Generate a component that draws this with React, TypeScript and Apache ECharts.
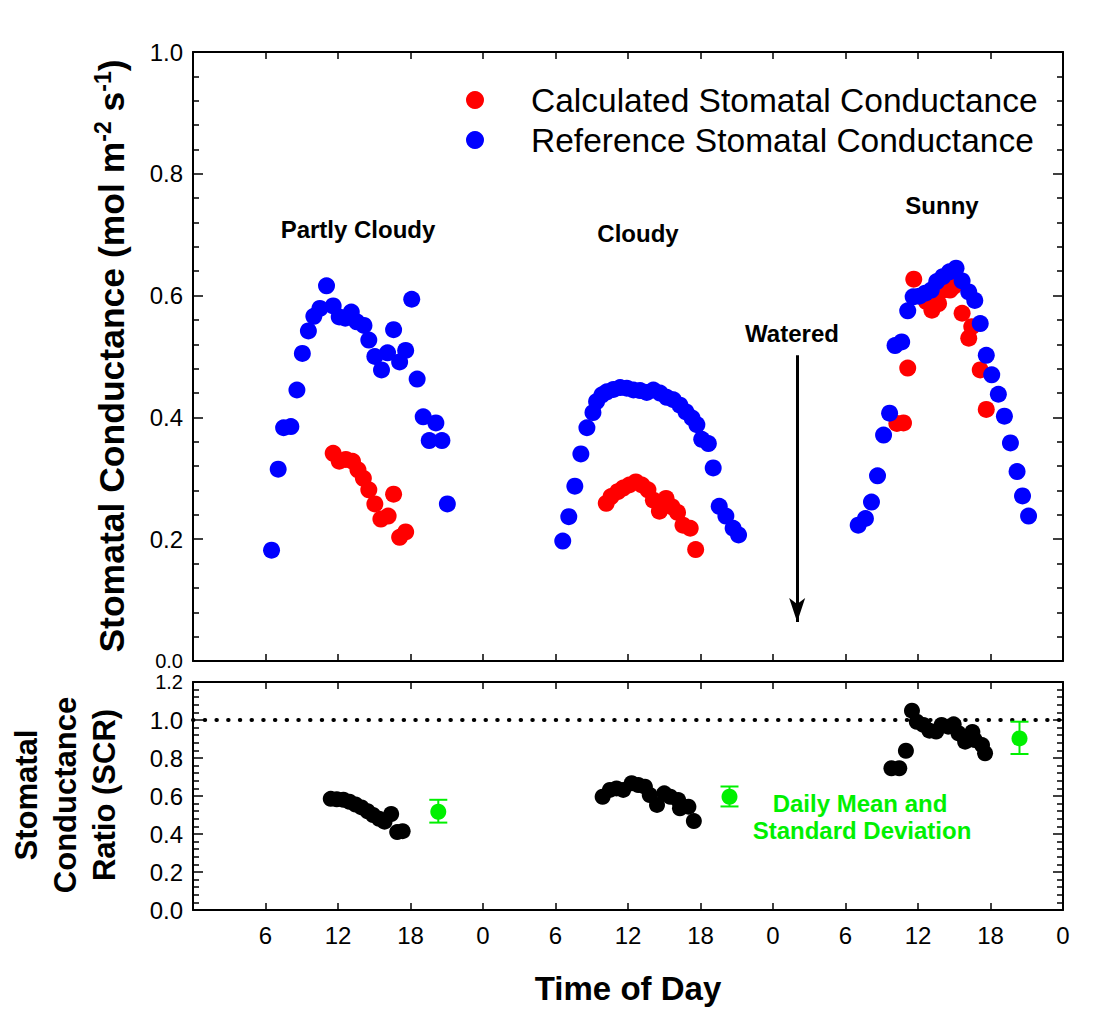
import React, { useEffect, useRef } from 'react';
import * as echarts from 'echarts';

const FONT = 'Arial, "Liberation Sans", Helvetica, sans-serif';
const GREEN = '#00f000';

// Time of day axis (hours from start of first day)
const hourMin = 0;
const hourMax = 72;
const hourStep = 6;

// ---- Upper panel: stomatal conductance (mol m-2 s-1) ----
const calcPartlyCloudy = [
  [11.6, 0.341], [12.1, 0.328], [12.65, 0.331], [13.2, 0.328], [13.65, 0.314], [14.1, 0.3],
  [14.55, 0.281], [15.05, 0.258], [15.55, 0.233], [16.15, 0.238], [16.6, 0.274], [17.1, 0.203], [17.6, 0.212],
];
const calcCloudy = [
  [34.2, 0.259], [34.6, 0.27], [35.15, 0.278], [35.6, 0.284], [36.1, 0.289], [36.65, 0.294], [37.15, 0.289],
  [37.65, 0.281], [38.1, 0.264], [38.6, 0.246], [39.15, 0.267], [39.65, 0.253], [40.1, 0.244], [40.55, 0.223],
  [41.15, 0.218], [41.6, 0.183],
];
const calcSunny = [
  [58.25, 0.39], [58.8, 0.391], [59.15, 0.481], [59.65, 0.627], [60.7, 0.59], [61.15, 0.576], [61.7, 0.587],
  [62.1, 0.609], [62.65, 0.609], [62.95, 0.615], [63.65, 0.571], [64.2, 0.53], [64.45, 0.549], [65.15, 0.478],
  [65.65, 0.413],
];
const refPartlyCloudy = [
  [6.5, 0.182], [7.05, 0.315], [7.5, 0.383], [8.1, 0.385], [8.6, 0.445], [9.05, 0.505], [9.55, 0.542],
  [10.0, 0.566], [10.5, 0.579], [11.05, 0.616], [11.6, 0.583], [12.1, 0.565], [12.6, 0.563], [13.1, 0.573],
  [13.55, 0.557], [14.15, 0.551], [14.55, 0.527], [15.05, 0.5], [15.6, 0.478], [16.1, 0.506], [16.6, 0.544],
  [17.1, 0.491], [17.6, 0.51], [18.1, 0.594], [18.55, 0.463], [19.05, 0.401], [19.55, 0.362], [20.1, 0.391],
  [20.6, 0.362], [21.05, 0.258],
];
const refCloudy = [
  [30.6, 0.197], [31.1, 0.237], [31.6, 0.287], [32.1, 0.34], [32.6, 0.383], [33.1, 0.408], [33.4, 0.426],
  [33.85, 0.437], [34.25, 0.442], [34.8, 0.446], [35.35, 0.449], [35.9, 0.448], [36.45, 0.445], [37.0, 0.444],
  [37.55, 0.441], [38.1, 0.445], [38.65, 0.44], [39.2, 0.433], [39.75, 0.429], [40.3, 0.42], [40.8, 0.409],
  [41.3, 0.399], [41.7, 0.388], [42.1, 0.364], [42.65, 0.357], [43.05, 0.317], [43.55, 0.254], [44.1, 0.238],
  [44.7, 0.218], [45.15, 0.207],
];
const refSunny = [
  [55.05, 0.223], [55.65, 0.234], [56.15, 0.261], [56.65, 0.304], [57.15, 0.371], [57.65, 0.407], [58.1, 0.518],
  [58.65, 0.524], [59.15, 0.575], [59.6, 0.598], [60.1, 0.599], [60.6, 0.604], [61.1, 0.609], [61.55, 0.623],
  [62.05, 0.631], [62.6, 0.639], [63.15, 0.645], [63.65, 0.624], [64.2, 0.606], [64.7, 0.592], [65.15, 0.554],
  [65.65, 0.502], [66.1, 0.47], [66.65, 0.438], [67.15, 0.402], [67.65, 0.358], [68.2, 0.311], [68.65, 0.271],
  [69.15, 0.238],
];

// Watering event arrow (hour, from value, to value)
const wateredHour = 50;
const wateredFrom = 0.502;
const wateredTo = 0.064;

// ---- Lower panel: stomatal conductance ratio (SCR) ----
const ratioPartlyCloudy = [
  [11.4, 0.585], [11.9, 0.583], [12.45, 0.58], [12.95, 0.57], [13.45, 0.555], [13.95, 0.54], [14.45, 0.52],
  [14.9, 0.5], [15.4, 0.48], [15.85, 0.465], [16.4, 0.505], [16.9, 0.41], [17.35, 0.415],
];
const ratioCloudy = [
  [33.9, 0.596], [34.5, 0.632], [35.05, 0.64], [35.6, 0.632], [36.3, 0.667], [36.85, 0.658], [37.4, 0.649],
  [37.8, 0.605], [38.4, 0.553], [39.0, 0.614], [39.5, 0.596], [40.15, 0.579], [40.3, 0.535], [41.0, 0.544],
  [41.45, 0.468],
];
const ratioSunny = [
  [57.8, 0.746], [58.45, 0.746], [59.0, 0.838], [59.5, 1.049], [59.9, 0.991], [60.45, 0.974], [60.95, 0.944],
  [61.5, 0.939], [61.95, 0.974], [62.5, 0.965], [62.95, 0.977], [63.35, 0.93], [63.9, 0.886], [64.5, 0.937],
  [64.7, 0.895], [65.3, 0.868], [65.55, 0.825],
];
// [hour, mean, mean - sd, mean + sd]
const dailyMeanSd = [
  [20.3, 0.517, 0.46, 0.58],
  [44.4, 0.596, 0.545, 0.65],
  [68.4, 0.903, 0.821, 0.991],
];
const referenceRatio = 1.0;

const upperTicks = { min: 0, max: 1.0, interval: 0.2 };
const lowerTicks = { min: 0, max: 1.2, interval: 0.2 };

const black = '#000';
const axisLine = { show: true, onZero: false, lineStyle: { color: black, width: 2 } };

function xAxisDef(gridIndex: number, position: 'top' | 'bottom', withLabels: boolean) {
  return {
    type: 'value',
    gridIndex,
    position,
    min: hourMin,
    max: hourMax,
    interval: hourStep,
    axisLine,
    axisTick: { show: true, inside: true, length: 7, lineStyle: { color: black, width: 1.5 } },
    axisLabel: {
      show: withLabels,
      color: black,
      fontSize: 24,
      fontFamily: FONT,
      margin: 13,
      formatter: (v: number) => (v === 0 ? '' : String(v % 24)),
    },
    splitLine: { show: false },
    ...(withLabels
      ? {
          name: 'Time of Day',
          nameLocation: 'middle',
          nameGap: 62,
          nameTextStyle: { fontSize: 33, fontWeight: 'bold', fontFamily: FONT, color: black },
        }
      : {}),
  };
}

// edge: value whose label sits at the seam between the two panels (kept compact so labels don't collide)
function yAxisDef(gridIndex: number, position: 'left' | 'right', ticks: any, withLabels: boolean, edge: number) {
  return {
    type: 'value',
    gridIndex,
    position,
    min: ticks.min,
    max: ticks.max,
    interval: ticks.interval,
    axisLine,
    axisTick: { show: true, inside: true, length: 10, lineStyle: { color: black, width: 1.5 } },
    minorTick: { show: true, splitNumber: 5, length: 6, lineStyle: { color: black, width: 1.5 } },
    axisLabel: {
      show: withLabels,
      color: black,
      fontSize: 24,
      fontFamily: FONT,
      margin: 10,
      formatter: (v: number) =>
        Math.abs(v - edge) < 1e-9 ? `{e|${v.toFixed(1)}}` : `{n|${v.toFixed(1)}}`,
      rich: {
        n: { fontSize: 24, lineHeight: 24, fontFamily: FONT, color: black },
        e: { fontSize: 20, lineHeight: 19, fontFamily: FONT, color: black },
      },
    },
    splitLine: { show: false },
    minorSplitLine: { show: false },
  };
}

function errorBarItem(params: any, api: any) {
  const x = api.value(0);
  const pm = api.coord([x, api.value(1)]);
  const pl = api.coord([x, api.value(2)]);
  const ph = api.coord([x, api.value(3)]);
  const cap = 9;
  const style = { stroke: GREEN, lineWidth: 2, fill: 'none' };
  return {
    type: 'group',
    children: [
      { type: 'line', shape: { x1: pl[0], y1: pl[1], x2: ph[0], y2: ph[1] }, style },
      { type: 'line', shape: { x1: pl[0] - cap, y1: pl[1], x2: pl[0] + cap, y2: pl[1] }, style },
      { type: 'line', shape: { x1: ph[0] - cap, y1: ph[1], x2: ph[0] + cap, y2: ph[1] }, style },
      { type: 'circle', shape: { cx: pm[0], cy: pm[1], r: 8 }, style: { fill: GREEN } },
    ],
  };
}

function legendDef(name: string, top: number) {
  return {
    data: [name],
    left: 466,
    top,
    padding: 0,
    icon: 'circle',
    itemWidth: 18,
    itemHeight: 18,
    selectedMode: false,
    textStyle: { fontSize: 33.5, fontFamily: FONT, color: black, lineHeight: 30, padding: [0, 0, 0, 42] },
  };
}

const annot = (text: string, x: number, y: number, size = 24, color = black) => ({
  type: 'text',
  x,
  y,
  silent: true,
  style: {
    text,
    fontSize: size,
    fontWeight: 'bold',
    fontFamily: FONT,
    fill: color,
    align: 'center',
    verticalAlign: 'middle',
  },
});

export default function App() {
  const ref = useRef<HTMLDivElement>(null);
  useEffect(() => {
    const chart = echarts.init(ref.current!, null, { renderer: 'svg' });
    const option: any = {
      animation: false,
      backgroundColor: '#fff',
      textStyle: { fontFamily: FONT },
      grid: [
        { left: 193, top: 52, width: 870, height: 609 },
        { left: 193, top: 682, width: 870, height: 228 },
      ],
      xAxis: [
        xAxisDef(0, 'bottom', false),
        xAxisDef(0, 'top', false),
        xAxisDef(1, 'bottom', true),
        xAxisDef(1, 'top', false),
      ],
      yAxis: [
        yAxisDef(0, 'left', upperTicks, true, upperTicks.min),
        yAxisDef(0, 'right', upperTicks, false, upperTicks.min),
        yAxisDef(1, 'left', lowerTicks, true, lowerTicks.max),
        yAxisDef(1, 'right', lowerTicks, false, lowerTicks.max),
      ],
      legend: [
        legendDef('Calculated Stomatal Conductance', 83),
        legendDef('Reference Stomatal Conductance', 123),
      ],
      series: [
        {
          name: 'Calculated Stomatal Conductance',
          type: 'scatter',
          xAxisIndex: 0,
          yAxisIndex: 0,
          symbolSize: 17,
          itemStyle: { color: '#ff0000', opacity: 1 },
          data: [...calcPartlyCloudy, ...calcCloudy, ...calcSunny],
        },
        {
          name: 'Reference Stomatal Conductance',
          type: 'scatter',
          xAxisIndex: 0,
          yAxisIndex: 0,
          symbolSize: 17,
          itemStyle: { color: '#0000ff', opacity: 1 },
          data: [...refPartlyCloudy, ...refCloudy, ...refSunny],
          markLine: {
            silent: true,
            symbol: ['none', 'arrow'],
            symbolSize: [12, 24],
            label: { show: false },
            lineStyle: { color: black, width: 3, type: 'solid' },
            data: [[{ coord: [wateredHour, wateredFrom] }, { coord: [wateredHour, wateredTo] }]],
          },
        },
        {
          name: 'Stomatal Conductance Ratio',
          type: 'scatter',
          xAxisIndex: 2,
          yAxisIndex: 2,
          symbolSize: 16,
          itemStyle: { color: black, opacity: 1 },
          data: [...ratioPartlyCloudy, ...ratioCloudy, ...ratioSunny],
          markLine: {
            silent: true,
            symbol: ['none', 'none'],
            label: { show: false },
            lineStyle: { color: black, width: 4, type: [0.5, 11.2], cap: 'round' },
            data: [{ yAxis: referenceRatio }],
          },
        },
        {
          name: 'Daily Mean and Standard Deviation',
          type: 'custom',
          xAxisIndex: 2,
          yAxisIndex: 2,
          renderItem: errorBarItem,
          data: dailyMeanSd,
          z: 5,
        },
      ],
      graphic: [
        {
          type: 'text',
          x: 112,
          y: 356,
          rotation: Math.PI / 2,
          silent: true,
          style: {
            text: '{a|Stomatal Conductance (mol m}{s|-2}{a| s}{s|-1}{a|)}',
            align: 'center',
            verticalAlign: 'middle',
            fill: black,
            rich: {
              a: { fontSize: 35.5, fontWeight: 'bold', fontFamily: FONT, fill: black, lineHeight: 42 },
              s: { fontSize: 23, fontWeight: 'bold', fontFamily: FONT, fill: black, lineHeight: 23, verticalAlign: 'top' },
            },
          },
        },
        {
          type: 'text',
          x: 65,
          y: 795,
          rotation: Math.PI / 2,
          silent: true,
          style: {
            text: 'Stomatal\nConductance\nRatio (SCR)',
            fontSize: 31,
            fontWeight: 'bold',
            fontFamily: FONT,
            lineHeight: 39,
            fill: black,
            align: 'center',
            verticalAlign: 'middle',
          },
        },
        annot('Partly Cloudy', 358, 229),
        annot('Cloudy', 638, 233),
        annot('Sunny', 942, 205),
        annot('Watered', 792, 333),
        annot('Daily Mean and', 860, 803, 24, GREEN),
        annot('Standard Deviation', 862, 830, 24, GREEN),
      ],
    };
    chart.setOption(option);
    return () => chart.dispose();
  }, []);
  return <div ref={ref} style={{ position: 'fixed', left: 0, top: 0, width: 1102, height: 1011 }} />;
}
